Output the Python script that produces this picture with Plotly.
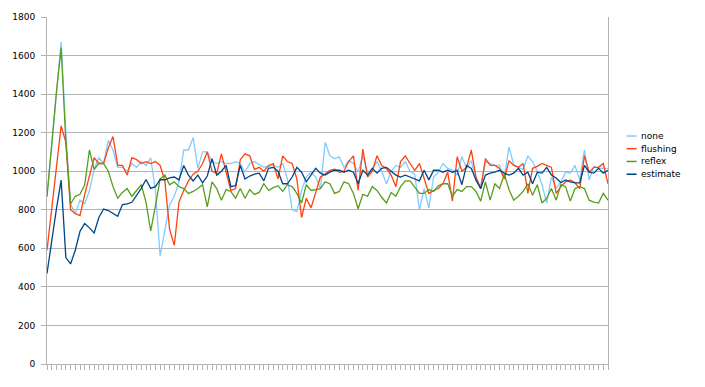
import plotly.graph_objects as go

series_names = ["none", "flushing", "reflex", "estimate"]
series_colors = ["#83caff", "#ff420e", "#579d1c", "#004586"]

none = [
    870, 1150, 1420, 1670, 1200, 830, 780, 850, 830, 900,
    1010, 1070, 1040, 1160, 1110, 1020, 1020, 1000, 1040, 1020,
    1050, 1030, 1070, 900, 560, 690, 825, 870, 945, 1110,
    1110, 1175, 1015, 1100, 1100, 1050, 1040, 1050, 1040, 1040,
    1050, 1040, 995, 1040, 1050, 1035, 1020, 1025, 1030, 1020,
    1040, 960, 800, 790, 900, 970, 995, 970, 910, 1150,
    1080, 1065, 1075, 1020, 1055, 1040, 995, 1080, 995, 1010,
    1050, 1000, 935, 1000, 1030, 1020, 1050, 1000, 985, 800,
    910, 810, 970, 995, 1040, 1015, 1005, 980, 1075, 1015,
    1055, 950, 920, 1050, 1040, 1030, 1030, 970, 1125, 1035,
    1020, 1010, 1080, 1050, 1000, 930, 835, 970, 910, 945,
    995, 990, 1030, 955, 1110, 955, 1025, 1015, 1015, 1015,
]

flushing = [
    590, 800, 1020, 1235, 1150, 800, 780, 770, 880, 970,
    1070, 1040, 1040, 1120, 1180, 1030, 1030, 980, 1070, 1060,
    1040, 1050, 1040, 1050, 1030, 950, 700, 615, 840, 900,
    950, 985, 1000, 1040, 1100, 1000, 990, 1090, 990, 900,
    910, 1060, 1090, 1080, 1010, 1020, 1000, 1030, 1040, 960,
    1080, 1050, 1040, 960, 760, 860, 810, 895, 970, 985,
    1005, 1010, 995, 1000, 1050, 1080, 900, 1115, 970, 1000,
    1080, 1030, 1015, 980, 920, 1050, 1080, 1040, 1005, 1040,
    960, 885, 900, 910, 935, 995, 845, 1075, 1000, 1020,
    1110, 970, 910, 1065, 1030, 1030, 1015, 960, 1055, 1030,
    1020, 1040, 885, 1015, 1025, 1040, 1030, 1020, 885, 920,
    945, 955, 940, 910, 1080, 995, 1020, 1020, 1040, 935,
]

reflex = [
    868, 1140, 1410, 1640, 1150, 830, 870, 880, 930, 1110,
    1010, 1040, 1040, 1000, 920, 860, 890, 910, 870, 900,
    930, 840, 690, 820, 960, 980, 930, 945, 920, 910,
    885, 895, 910, 930, 815, 945, 910, 850, 905, 895,
    860, 910, 860, 905, 880, 890, 935, 900, 915, 925,
    895, 930, 920, 885, 835, 930, 900, 905, 910, 945,
    935, 885, 895, 945, 935, 885, 805, 880, 870, 920,
    900, 865, 835, 890, 870, 920, 950, 950, 920, 885,
    885, 905, 895, 925, 935, 935, 870, 905, 895, 920,
    920, 895, 845, 945, 850, 935, 910, 985, 905, 850,
    870, 895, 935, 875, 930, 835, 860, 910, 850, 930,
    920, 845, 910, 920, 910, 850, 840, 835, 885, 850,
]

estimate = [
    470, 644, 805, 954, 552, 519, 590, 688, 729, 706,
    680, 760, 804, 796, 783, 766, 827, 831, 839, 877,
    911, 957, 911, 920, 957, 955, 965, 970, 955, 1030,
    980, 950, 980, 940, 975, 1065, 980, 1000, 1030, 920,
    925, 1030, 960, 975, 985, 990, 950, 1015, 1020, 1000,
    935, 935, 970, 1020, 995, 945, 980, 1015, 990, 980,
    995, 1005, 1005, 995, 1005, 995, 935, 1005, 980, 1015,
    990, 1015, 1020, 1000, 980, 970, 980, 970, 960, 950,
    1005, 955, 1005, 1005, 995, 1005, 995, 1005, 930, 1030,
    1015, 955, 910, 980, 990, 995, 1005, 990, 980, 990,
    1015, 980, 995, 935, 995, 990, 1020, 980, 965, 940,
    955, 945, 940, 940, 1030, 995, 990, 1015, 990, 1005,
]

y_ticks = [0, 200, 400, 600, 800, 1000, 1200, 1400, 1600, 1800]

all_series = [none, flushing, reflex, estimate]
x = list(range(len(none)))

FONT = "DejaVu Sans"
GRID = "#b3b3b3"

fig = go.Figure()
for name, color, vals in zip(series_names, series_colors, all_series):
    fig.add_trace(go.Scatter(
        x=x, y=vals, name=name, mode="lines",
        line=dict(color=color, width=1.3),
        showlegend=False,
    ))

# custom legend (short line samples like the reference)
row_y = [0.657, 0.6206, 0.5837, 0.5469]
for name, color, ry in zip(series_names, series_colors, row_y):
    fig.add_shape(type="line", xref="paper", yref="paper",
                  x0=1.033, x1=1.051, y0=ry, y1=ry,
                  line=dict(color=color, width=1.5))
    fig.add_annotation(xref="paper", yref="paper", x=1.0545, y=ry,
                       text=name, showarrow=False, xanchor="left",
                       yanchor="middle",
                       font=dict(family=FONT, size=9, color="#000000"))

fig.update_layout(
    width=705, height=387,
    margin=dict(l=47, r=97, t=14, b=23),
    paper_bgcolor="white", plot_bgcolor="white",
    font=dict(family=FONT, size=9, color="#000000"),
    showlegend=False,
)
fig.update_xaxes(
    range=[0, len(none) - 1], tickmode="linear", tick0=0, dtick=1,
    showticklabels=False, ticks="outside", ticklen=5, tickcolor=GRID,
    tickwidth=1, showgrid=False, zeroline=False,
    showline=True, linecolor=GRID, linewidth=1,
)
fig.update_yaxes(
    range=[0, 1800], tickmode="array", tickvals=y_ticks,
    ticktext=[str(v) for v in y_ticks],
    ticks="outside", ticklen=5, tickcolor=GRID, tickwidth=1,
    showgrid=True, gridcolor=GRID, gridwidth=1, zeroline=False,
    showline=True, linecolor=GRID, linewidth=1, mirror=True,
    tickfont=dict(family=FONT, size=9, color="#000000"),
    ticklabelstandoff=4,
)

fig.write_html("out.html")
